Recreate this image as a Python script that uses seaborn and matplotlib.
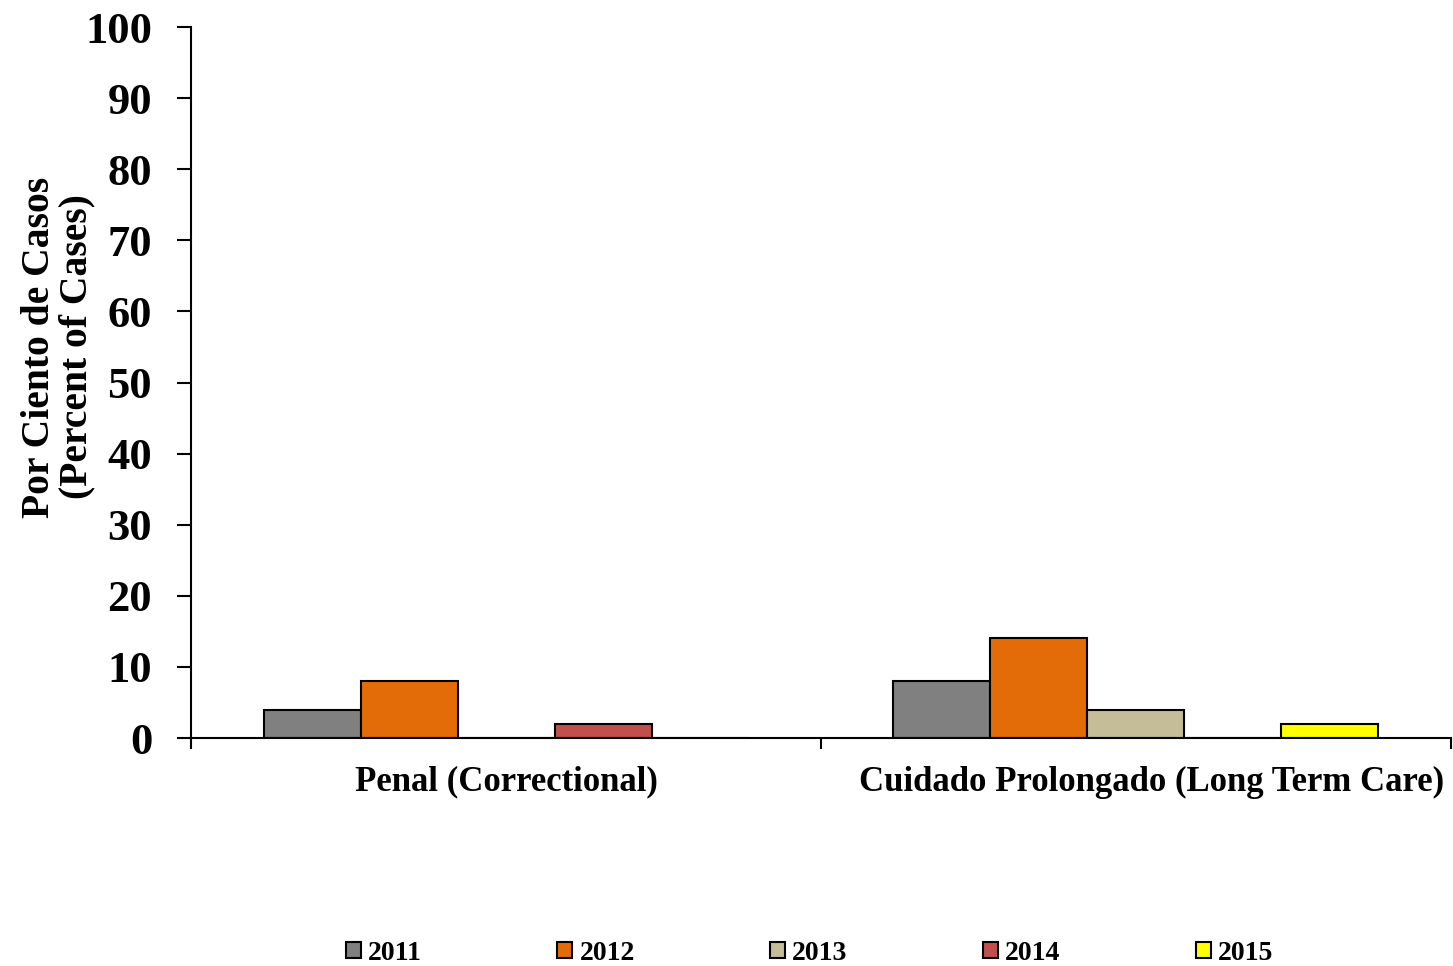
"""
Percent of cases by setting (Penal / Long Term Care), 2011-2015
"""

import pandas as pd
import matplotlib.pyplot as plt
import matplotlib.transforms as mtransforms
import seaborn as sns

# data
categories = ['Penal (Correctional)', 'Cuidado Prolongado (Long Term Care)']
years = ['2011', '2012', '2013', '2014', '2015']
penal = [4, 8, 0, 2, 0]
cuidado = [8, 14, 4, 0, 2]
colors = ['#808080', '#E36C09', '#C4BD97', '#C0504D', '#FFFF00']

rows = []
for cat, vals in zip(categories, [penal, cuidado]):
    for yr, v in zip(years, vals):
        rows.append({'categoria': cat, 'year': yr, 'pct': v})
df = pd.DataFrame(rows)

sns.set_style('white')
plt.rcParams['font.family'] = ['Liberation Serif', 'DejaVu Serif']
plt.rcParams['font.weight'] = 'bold'
plt.rcParams['text.color'] = 'black'
plt.rcParams['axes.labelcolor'] = 'black'
plt.rcParams['xtick.color'] = 'black'
plt.rcParams['ytick.color'] = 'black'

fig = plt.figure(figsize=(14.53, 9.66), dpi=100)
ax = fig.add_axes([0.1315, 0.236, 0.867, 0.736])

sns.barplot(data=df, x='categoria', y='pct', hue='year', order=categories,
            hue_order=years, palette=colors, width=0.77, edgecolor='black',
            linewidth=1.5, saturation=1, ax=ax)

ax.set_ylim(0, 100)
ax.set_xlim(-0.5, 1.5)
ax.set_yticks(range(0, 101, 10))
ax.tick_params(axis='y', labelsize=32, length=10, width=1.5, direction='out', left=True, pad=18)
for lbl in ax.get_yticklabels():
    lbl.set_fontweight('bold')

# category boundaries as major ticks, names as minor ticks
ax.set_xticks([-0.5, 0.5, 1.5])
ax.set_xticklabels([])
ax.set_xticks([0, 1], minor=True)
ax.set_xticklabels(categories, minor=True, fontsize=25, fontweight='bold')
ax.tick_params(axis='x', which='major', length=8, width=1.5, bottom=True, direction='out')
ax.tick_params(axis='x', which='minor', length=0, pad=20)
# long label sits a bit to the right in the original
lab2 = ax.get_xticklabels(minor=True)[1]
lab2.set_transform(lab2.get_transform() + mtransforms.ScaledTranslation(0.16, 0, fig.dpi_scale_trans))

ax.set_xlabel('')
ax.set_ylabel('Por Ciento de Casos\n(Percent of Cases)', fontsize=28.5, fontweight='bold',
              linespacing=1.0)
ax.yaxis.set_label_coords(-0.076, 0.55)

sns.despine(ax=ax)
for s in ['left', 'bottom']:
    ax.spines[s].set_linewidth(1.5)
    ax.spines[s].set_color('black')

ax.legend(loc='center', bbox_to_anchor=(0.491, -0.303), ncol=5, frameon=False,
          prop={'size': 20, 'weight': 'bold'}, handlelength=0.55, handleheight=0.55,
          handletextpad=0.25, columnspacing=4.87)

plt.savefig('out.png', dpi=100)
